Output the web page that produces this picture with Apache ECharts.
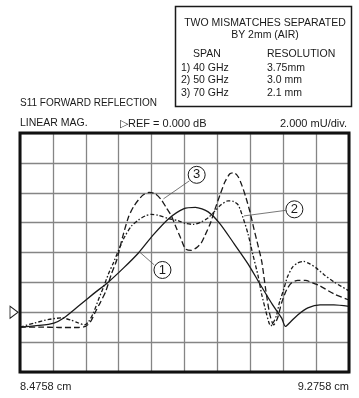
<!DOCTYPE html>
<html>
<head>
<meta charset="utf-8">
<script src="https://cdn.jsdelivr.net/npm/echarts@6/dist/echarts.min.js"></script>
<style>
html,body{margin:0;padding:0;background:#fff;}
#c{width:359px;height:398px;}
</style>
</head>
<body>
<div id="c"></div>
<script>
// Horizontal position in screen divisions (0..10), 1 div = 0.08 cm, from 8.4758 cm
// Vertical values in mU (2 mU/div, REF = 0)
const xTickLabels = ['8.4758 cm', '9.2758 cm'];

// 1) 40 GHz span - solid
const pos40 = [0,0.59,1.03,1.33,1.78,2.23,2.69,3.15,3.60,4.05,4.51,4.97,5.33,5.72,6.08,6.51,6.93,7.29,7.68,7.95,8.07,8.22,8.44,8.75,9.12,9.54,10];
const mag40 = [-0.99,-0.88,-0.72,-0.38,0.42,1.23,2.03,2.97,3.97,5.18,6.25,6.92,7.02,6.72,5.92,4.58,3.24,1.90,0.49,-0.38,-0.95,-0.65,-0.18,0.29,0.49,0.49,0.39];

// 2) 50 GHz span - dash-dot
const pos50 = [0,0.44,0.88,1.27,1.54,1.78,1.96,2.08,2.23,2.38,2.54,2.69,2.85,3.00,3.18,3.39,3.60,3.81,3.99,4.20,4.51,4.82,5.03,5.27,5.51,5.72,5.93,6.11,6.32,6.48,6.63,6.78,6.93,7.08,7.23,7.35,7.47,7.56,7.62,7.71,7.80,7.89,8.01,8.13,8.29,8.44,8.62,8.81,9.00,9.25,9.54,10];
const mag50 = [-0.99,-0.72,-0.48,-0.38,-0.52,-0.72,-0.85,-0.65,-0.05,0.82,1.70,2.57,3.37,4.17,5.05,5.78,6.18,6.45,6.55,6.49,6.28,6.12,5.95,5.88,6.05,6.32,6.79,7.19,7.46,7.42,7.19,6.32,5.25,3.84,2.50,1.16,0.09,-0.65,-0.92,-0.65,-0.18,0.69,1.49,2.37,3.04,3.30,3.40,3.24,2.97,2.50,2.03,1.43];

// 3) 70 GHz span - long dash
const pos70 = [0,0.59,1.18,1.78,1.99,2.14,2.29,2.45,2.60,2.78,2.94,3.12,3.30,3.45,3.60,3.75,3.93,4.11,4.30,4.45,4.60,4.75,4.88,5.03,5.21,5.36,5.51,5.63,5.78,5.93,6.08,6.23,6.38,6.51,6.63,6.75,6.87,6.99,7.11,7.23,7.35,7.47,7.59,7.71,7.83,7.95,8.10,8.25,8.44,8.68,8.90,9.12,9.54,10];
const mag70 = [-0.99,-0.99,-1.02,-1.02,-0.95,-0.65,0.02,0.69,1.36,2.57,3.50,5.05,6.39,7.06,7.52,7.86,8.03,7.93,7.52,6.99,6.45,5.65,4.98,4.24,4.14,4.31,4.64,5.18,5.92,6.92,7.86,8.73,9.27,9.33,9.07,8.46,7.66,6.72,5.58,4.51,3.37,1.49,-0.11,-0.85,-0.38,0.62,1.49,1.96,2.13,2.13,1.96,1.76,1.23,0.82];

const refLevel = 0;

const tableRows = [
  ['1) 40 GHz', '3.75mm'],
  ['2) 50 GHz', '3.0 mm'],
  ['3) 70 GHz', '2.1 mm']
];

function zip(a, b) { return a.map((v, i) => [v, b[i]]); }

const FONT = '"Liberation Sans", Arial, Helvetica, sans-serif';
const INK = '#1a1a1a';

function calloutPoint(name, coord) {
  return {
    coord: coord, symbol: 'circle', symbolSize: 17,
    itemStyle: { color: '#fff', borderColor: INK, borderWidth: 1 },
    label: { show: true, position: 'inside', formatter: name, color: INK, fontSize: 13, fontFamily: FONT }
  };
}
function leader(from, to) {
  return [{ coord: from, symbol: 'none' }, { coord: to, symbol: 'none' }];
}

const chart = echarts.init(document.getElementById('c'), null, { renderer: 'canvas' });

const lineBase = { type: 'line', showSymbol: false, smooth: 0.25, animation: false, z: 3 };

const option = {
  animation: false,
  backgroundColor: '#fff',
  grid: { left: 20, top: 133, right: 10, bottom: 26, show: true, borderColor: '#111', borderWidth: 3, backgroundColor: 'transparent', z: 4 },
  xAxis: {
    type: 'value', min: 0, max: 10, interval: 1,
    axisLine: { show: false }, axisTick: { show: false },
    splitLine: { show: true, lineStyle: { color: '#858585', width: 1.3 } },
    axisLabel: {
      show: true, margin: 9, color: '#222', fontSize: 11, fontFamily: FONT,
      alignMinLabel: 'left', alignMaxLabel: 'right',
      formatter: v => v === 0 ? xTickLabels[0] : (v === 10 ? xTickLabels[1] : '')
    }
  },
  yAxis: {
    type: 'value', min: -4, max: 12, interval: 2,
    axisLine: { show: false }, axisTick: { show: false }, axisLabel: { show: false },
    splitLine: { show: true, lineStyle: { color: '#858585', width: 1.3 } }
  },
  series: [
    Object.assign({}, lineBase, {
      name: '40 GHz', data: zip(pos40, mag40),
      lineStyle: { color: INK, width: 1.3, type: 'solid' },
      markPoint: {
        animation: false, z: 6,
        data: [
          calloutPoint('1', [4.33, 2.83]),
          {
            coord: [0, refLevel], symbol: 'path://M0,0L8,6L0,12Z', symbolSize: [8, 12], symbolOffset: [-6, 0],
            itemStyle: { color: '#fff', borderColor: INK, borderWidth: 1 }, label: { show: false }
          }
        ]
      },
      markLine: {
        animation: false, silent: true, symbol: 'none',
        lineStyle: { color: '#555', width: 0.8, type: 'solid' }, label: { show: false },
        data: [leader([4.08, 3.17], [3.63, 4.04])]
      }
    }),
    Object.assign({}, lineBase, {
      name: '50 GHz', data: zip(pos50, mag50),
      lineStyle: { color: INK, width: 1.3, type: [4, 2, 1.5, 2] },
      markPoint: { animation: false, z: 6, data: [calloutPoint('2', [8.34, 6.89])] },
      markLine: {
        animation: false, silent: true, symbol: 'none',
        lineStyle: { color: '#555', width: 0.8, type: 'solid' }, label: { show: false },
        data: [leader([8.07, 6.82], [6.81, 6.45])]
      }
    }),
    Object.assign({}, lineBase, {
      name: '70 GHz', data: zip(pos70, mag70),
      lineStyle: { color: INK, width: 1.3, type: [6, 3] },
      markPoint: { animation: false, z: 6, data: [calloutPoint('3', [5.37, 9.20])] },
      markLine: {
        animation: false, silent: true, symbol: 'none',
        lineStyle: { color: '#555', width: 0.8, type: 'solid' }, label: { show: false },
        data: [leader([5.15, 8.80], [4.36, 7.59])]
      }
    })
  ],
  graphic: [
    { type: 'rect', shape: { x: 175.5, y: 6.5, width: 176, height: 100 }, style: { fill: '#fff', stroke: INK, lineWidth: 1.5 } },
    { type: 'text', x: 265, y: 23, style: { text: 'TWO MISMATCHES SEPARATED', font: '10.5px ' + FONT, fill: INK, textAlign: 'center', textVerticalAlign: 'middle' } },
    { type: 'text', x: 265, y: 35, style: { text: 'BY 2mm (AIR)', font: '10.5px ' + FONT, fill: INK, textAlign: 'center', textVerticalAlign: 'middle' } },
    { type: 'text', x: 193, y: 54, style: { text: 'SPAN', font: '10.5px ' + FONT, fill: INK, textVerticalAlign: 'middle' } },
    { type: 'text', x: 267, y: 54, style: { text: 'RESOLUTION', font: '10.5px ' + FONT, fill: INK, textVerticalAlign: 'middle' } },
    ...tableRows.flatMap((r, i) => [
      { type: 'text', x: 181, y: 68 + i * 12.5, style: { text: r[0], font: '10.5px ' + FONT, fill: INK, textVerticalAlign: 'middle' } },
      { type: 'text', x: 267, y: 68 + i * 12.5, style: { text: r[1], font: '10.5px ' + FONT, fill: INK, textVerticalAlign: 'middle' } }
    ]),
    { type: 'text', x: 20, y: 103, style: { text: 'S11 FORWARD REFLECTION', font: '10px ' + FONT, fill: INK, textVerticalAlign: 'middle' } },
    { type: 'text', x: 20, y: 123.5, style: { text: 'LINEAR MAG.', font: '10.5px ' + FONT, fill: INK, textVerticalAlign: 'middle' } },
    { type: 'text', x: 120, y: 123.5, style: { text: '\u25B7REF = 0.000 dB', font: '11px ' + FONT, fill: INK, textVerticalAlign: 'middle' } },
    { type: 'text', x: 347, y: 123.5, style: { text: '2.000 mU/div.', font: '11px ' + FONT, fill: INK, textAlign: 'right', textVerticalAlign: 'middle' } }
  ]
};

chart.setOption(option);
</script>
</body>
</html>
